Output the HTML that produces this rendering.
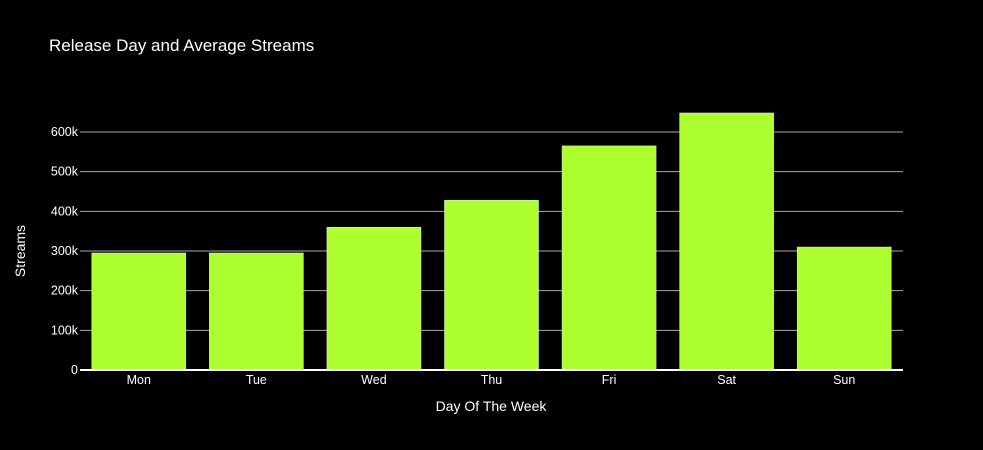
<!DOCTYPE html>
<html><head><meta charset="utf-8"><style>
html,body{margin:0;padding:0;background:#000;}
svg{display:block;font-family:"Liberation Sans",Arial,sans-serif;}
</style></head><body>
<svg id="chart" width="983" height="450">
<rect width="983" height="450" fill="#000"></rect>
<text x="49" y="51" fill="#fff" font-size="17">Release Day and Average Streams</text>
<g id="grid"></g><g id="bars"></g><g id="xt"></g><g id="yt"></g>
<text x="491" y="411" fill="#fff" font-size="14" text-anchor="middle">Day Of The Week</text>
<text transform="translate(25,251) rotate(-90)" fill="#fff" font-size="14" text-anchor="middle">Streams</text>
</svg>
<script>
const categories=["Mon","Tue","Wed","Thu","Fri","Sat","Sun"];
const streams=[295000,295000,360000,428000,565000,648000,310000];
const yTicks=[0,100000,200000,300000,400000,500000,600000];
const yTickLabels=["0","100k","200k","300k","400k","500k","600k"];
const NS="http://www.w3.org/2000/svg";
const x0=80,x1=903,yZero=370,yTop=132,yMaxVal=600000;
const band=(x1-x0)/categories.length;
function xs(i){return x0+band*(i+0.5);}
function ys(v){return yZero-(v/yMaxVal)*(yZero-yTop);}
function mk(t,a,p){const e=document.createElementNS(NS,t);for(const k in a)e.setAttribute(k,a[k]);p.appendChild(e);return e;}
const grid=document.getElementById('grid'),bars=document.getElementById('bars'),xt=document.getElementById('xt'),yt=document.getElementById('yt');
yTicks.forEach((v,i)=>{
 if(v!==0){const l=mk('line',{x1:x0,x2:x1,y1:ys(v),y2:ys(v),stroke:'#a8a8a8','stroke-width':1},grid);
 
 }
 const t=mk('text',{x:x0-2,y:ys(v)+4,fill:'#fff','font-size':12.5,'text-anchor':'end'},yt);t.textContent=yTickLabels[i];
 
 
});
categories.forEach((c,i)=>{
 const w=band*0.8,h=yZero-ys(streams[i]);
 const r=mk('rect',{x:xs(i)-w/2,y:ys(streams[i]),width:w,height:h,fill:'#adff2f',stroke:'#e8e8e8','stroke-width':0.5},bars);
 
 
 const t=mk('text',{x:xs(i),y:yZero+14,fill:'#fff','font-size':12.5,'text-anchor':'middle'},xt);t.textContent=c;
 
 
});
const z=mk('line',{x1:x0,x2:x1,y1:yZero,y2:yZero,stroke:'#fff','stroke-width':2},bars);


</script>
</body></html>
